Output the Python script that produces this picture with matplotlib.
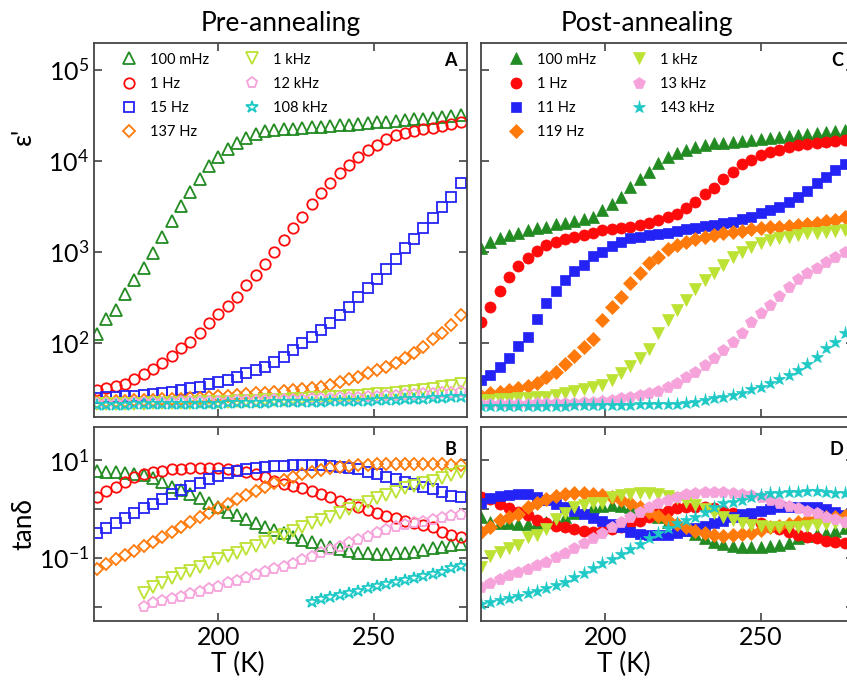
import numpy as np
import matplotlib
matplotlib.use("Agg")
import matplotlib.pyplot as plt

plt.rcParams['font.family'] = ['Lato', 'DejaVu Sans']
plt.rcParams['mathtext.default'] = 'regular'

# temperature sweeps (K)
T_pre = [161, 164, 167, 170, 173, 176, 179, 182, 185, 188, 191, 194, 197, 200,
         203, 206, 209, 212, 215, 218, 221, 224, 227, 230, 233, 236, 239, 242,
         245, 248, 251, 254, 257, 260, 263, 266, 269, 272, 275, 278]
T_post = [160, 163, 166, 169, 172, 175, 178, 181, 184, 187, 190, 193, 196, 199,
          202, 205, 208, 211, 214, 217, 220, 223, 226, 229, 232, 235, 238, 241,
          244, 247, 250, 253, 256, 259, 262, 265, 268, 271, 274, 277, 280]

labels_pre = ['100 mHz', '1 Hz', '15 Hz', '137 Hz', '1 kHz', '12 kHz', '108 kHz']
labels_post = ['100 mHz', '1 Hz', '11 Hz', '119 Hz', '1 kHz', '13 kHz', '143 kHz']
colors = ['#228B22', '#FF0A0A', '#2323F5', '#FF7A0A', '#BCE234', '#F5A3DA', '#1FC9C6']
markers = ['^', 'o', 's', 'D', 'v', 'p', '*']
msizes = [8, 7.5, 7, 6.5, 8, 8, 9]

# ---- panel A : eps' pre-annealing ----
epsA_100mHz = [126, 181, 229, 343, 490, 667, 957, 1440, 2170, 3180, 4560, 6300, 8700, 11100,
               13300, 15500, 17600, 19500, 21000, 21700, 22100, 22500, 22900, 23300, 23700,
               24100, 24500, 24900, 25400, 25900, 26400, 26900, 27400, 27900, 28400, 28900,
               29500, 30100, 31000, 32000]
epsA_1Hz = [30, 31.5, 33.7, 35, 40, 45, 52, 60, 71, 87, 102, 128, 163, 205, 255, 320, 430, 555,
            733, 1000, 1350, 1810, 2430, 3320, 4380, 5730, 7280, 8970, 11100, 13100, 14800,
            17500, 19000, 20000, 21000, 22000, 23000, 24000, 25500, 26500]
epsA_15Hz = [24.5, 25.1, 25.5, 25.9, 26.3, 26.8, 27.3, 28.2, 29.0, 30.2, 31.5, 32.8, 34.9, 36.7,
             38.9, 42.3, 46.1, 50.1, 54.5, 61.8, 70.1, 83.1, 98.5, 116, 138, 166, 201, 249, 316,
             396, 498, 641, 825, 1090, 1390, 1810, 2370, 3130, 4020, 5650]
epsA_137Hz = [22.5, 22.7, 22.9, 23.1, 23.3, 23.5, 23.7, 23.9, 24.1, 24.4, 24.7, 25.0, 25.4, 25.8,
              26.3, 26.8, 27.3, 27.8, 28.4, 29.0, 29.7, 30.4, 31.0, 31.8, 33.0, 34.3, 37.0, 39.6,
              41.7, 46.1, 50.1, 54.5, 59.4, 67.5, 76.6, 90.4, 109, 127, 155, 200]
epsA_1kHz = [21.0, 21.1, 21.2, 21.3, 21.4, 21.5, 21.6, 21.7, 21.8, 21.9, 22.0, 22.1, 22.2, 22.4,
             22.6, 22.8, 23.0, 23.2, 23.4, 23.6, 23.8, 24.0, 24.3, 24.6, 24.9, 25.2, 25.5, 25.9,
             26.3, 26.7, 27.2, 27.7, 28.3, 28.9, 29.6, 30.4, 31.3, 32.3, 33.5, 35.0]
epsA_12kHz = [21.3, 21.4, 21.5, 21.5, 21.6, 21.7, 21.8, 21.9, 22.0, 22.1, 22.2, 22.3, 22.4, 22.5,
              22.6, 22.7, 22.8, 23.0, 23.1, 23.3, 23.4, 23.6, 23.8, 24.0, 24.2, 24.4, 24.6, 24.8,
              25.0, 25.3, 25.6, 25.9, 26.2, 26.5, 26.8, 27.1, 27.5, 27.9, 28.4, 29.0]
epsA_108kHz = [20.8, 20.8, 20.9, 20.9, 21.0, 21.0, 21.1, 21.1, 21.2, 21.2, 21.3, 21.3, 21.4, 21.5,
               21.6, 21.7, 21.8, 21.9, 22.0, 22.1, 22.2, 22.3, 22.4, 22.5, 22.6, 22.7, 22.8, 22.9,
               23.0, 23.2, 23.4, 23.6, 23.8, 24.0, 24.2, 24.4, 24.6, 24.9, 25.2, 25.5]

# ---- panel B : tan delta pre-annealing ----
tanB_100mHz = [6.04, 5.77, 5.77, 5.5, 5.17, 4.93, 4.22, 3.6, 2.84, 2.43, 2.01, 1.64, 1.34, 1.07,
               0.875, 0.748, 0.61, 0.506, 0.419, 0.369, 0.316, 0.269, 0.23, 0.206, 0.182, 0.163,
               0.148, 0.137, 0.127, 0.123, 0.119, 0.119, 0.123, 0.127, 0.131, 0.144, 0.156,
               0.168, 0.182, 0.19]
tanB_1Hz = [1.72, 2.32, 2.84, 3.6, 4.42, 5.09, 5.6, 6.04, 6.43, 6.63, 6.74, 6.96, 6.96, 6.85,
            6.54, 6.24, 5.77, 5.17, 4.42, 3.71, 3.18, 2.94, 2.63, 2.32, 2.01, 1.72, 1.45, 1.26,
            1.11, 0.947, 0.835, 0.725, 0.64, 0.564, 0.506, 0.467, 0.419, 0.341, 0.29, 0.26]
tanB_15Hz = [0.325, 0.399, 0.506, 0.659, 0.81, 1.03, 1.26, 1.59, 2.01, 2.43, 2.94, 3.44, 4.02,
             4.7, 5.33, 5.96, 6.43, 6.96, 7.3, 7.54, 7.66, 7.9, 7.9, 7.9, 7.9, 7.66, 7.3, 6.96,
             6.43, 5.77, 5.09, 4.56, 4.02, 3.6, 3.18, 2.84, 2.51, 2.25, 1.83, 1.75]
tanB_137Hz = [0.0578, 0.0743, 0.0927, 0.1135, 0.139, 0.173, 0.213, 0.269, 0.341, 0.432, 0.546,
              0.67, 0.81, 1.03, 1.26, 1.57, 1.92, 2.32, 2.84, 3.33, 3.89, 4.56, 5.17, 5.77, 6.24,
              6.74, 7.3, 7.54, 7.9, 7.9, 8.15, 8.15, 8.15, 8.15, 8.15, 8.15, 8.15, 8.15, 7.9, 8.0]
tanB_1kHz = [0.0187, 0.0255, 0.0308, 0.0379, 0.0457, 0.0542, 0.0655, 0.0767, 0.0927, 0.108,
             0.127, 0.151, 0.173, 0.213, 0.249, 0.292, 0.357, 0.432, 0.506, 0.592, 0.692, 0.835,
             0.98, 1.14, 1.4, 1.64, 1.92, 2.25, 2.63, 2.94, 3.33, 3.77, 4.22, 4.93, 5.6]
tanB_12kHz = [0.0099, 0.0116, 0.013, 0.0143, 0.0159, 0.0181, 0.0201, 0.0225, 0.0255, 0.0299,
              0.0339, 0.039, 0.0443, 0.0501, 0.0578, 0.0655, 0.0743, 0.0897, 0.102, 0.123, 0.144,
              0.168, 0.197, 0.23, 0.269, 0.316, 0.369, 0.432, 0.47, 0.51, 0.55, 0.6, 0.65, 0.7,
              0.75]
tanB_108kHz = [0.0126, 0.0141, 0.0155, 0.0172, 0.0192, 0.0211, 0.0236, 0.0264, 0.029, 0.0318,
               0.0349, 0.0384, 0.0422, 0.0464, 0.0518, 0.0605, 0.0676]

# ---- panel C : eps' post-annealing ----
epsC_100mHz = [1090, 1290, 1400, 1530, 1620, 1730, 1810, 1880, 2000, 2050, 2170, 2270, 2390,
               2870, 3310, 4020, 5170, 6250, 7570, 9360, 10900, 12000, 13100, 14000, 14900,
               15500, 15800, 16200, 16600, 17000, 17400, 17800, 18200, 18600, 19000, 19500,
               20000, 20500, 21000, 21500, 22000]
epsC_1Hz = [170, 249, 373, 523, 697, 846, 1025, 1190, 1290, 1390, 1460, 1530, 1620, 1730, 1760,
            1840, 1880, 1970, 2080, 2230, 2390, 2600, 3000, 3540, 4300, 4980, 6250, 7520, 9200,
            10200, 11600, 12300, 13100, 14000, 14900, 15300, 15800, 16200, 16600, 16900, 17200]
epsC_11Hz = [38.9, 44.2, 54.5, 67.5, 92, 116, 181, 271, 373, 489, 614, 714, 897, 1000, 1160,
             1290, 1400, 1460, 1530, 1570, 1620, 1700, 1760, 1840, 1920, 1970, 2080, 2140, 2270,
             2430, 2640, 2870, 3130, 3540, 3960, 4680, 5730, 6670, 7910, 9200, 10500]
epsC_119Hz = [25.9, 27.8, 29, 30.2, 31.5, 33.4, 35.8, 41.7, 48, 58.3, 71.4, 90.4, 109, 177, 249,
              320, 450, 579, 746, 881, 1060, 1190, 1290, 1370, 1460, 1530, 1590, 1660, 1700,
              1760, 1810, 1850, 1880, 1920, 1970, 2010, 2080, 2170, 2230, 2390, 2500]
epsC_1kHz = [23.4, 23.4, 23.9, 23.9, 24.5, 24.5, 25.1, 25.5, 26.6, 27.8, 29.7, 30.8, 32.4, 34.3,
             38.9, 46.1, 55.5, 67.5, 84.6, 129, 177, 228, 294, 386, 489, 588, 714, 881, 1000,
             1135, 1235, 1345, 1425, 1460, 1530, 1590, 1620, 1660, 1700, 1730, 1760]
epsC_13kHz = [21.0, 21.1, 21.2, 21.3, 21.4, 21.5, 21.6, 21.7, 21.8, 21.9, 22.0, 22.2, 22.5, 22.9,
              23.4, 24.5, 25.5, 26.6, 28.2, 29.7, 32.8, 36.3, 41.7, 48, 56.9, 67.5, 83.2, 103,
              127, 170, 210, 259, 326, 412, 498, 579, 658, 776, 881, 1000, 1080]
epsC_143kHz = [20.0, 20.0, 20.1, 20.1, 20.2, 20.2, 20.3, 20.3, 20.4, 20.4, 20.5, 20.5, 20.6,
               20.6, 20.7, 20.8, 20.9, 21.0, 21.1, 21.2, 21.3, 21.4, 21.6, 22.5, 23.4, 24.5,
               25.5, 26.6, 28.2, 30.8, 33.0, 35.8, 39.6, 44.2, 50.1, 58.3, 70.1, 86.7, 103, 127,
               140]

# ---- panel D : tan delta post-annealing ----
tanD_100mHz = [0.691, 0.546, 0.506, 0.506, 0.49, 0.49, 0.506, 0.546, 0.592, 0.691, 0.81, 0.918,
               1.07, 1.14, 1.2, 1.14, 1.07, 0.947, 0.81, 0.67, 0.546, 0.446, 0.369, 0.306, 0.249,
               0.213, 0.191, 0.173, 0.168, 0.163, 0.163, 0.173, 0.182, 0.203, 0.249, 0.278,
               0.306, 0.325, 0.357, 0.399, 0.43]
tanD_1Hz = [1.72, 1.57, 1.26, 1.03, 0.875, 0.748, 0.592, 0.506, 0.446, 0.419, 0.381, 0.357,
            0.341, 0.357, 0.381, 0.419, 0.49, 0.573, 0.67, 0.81, 0.918, 1.03, 1.07, 1.07, 1.07,
            1.03, 0.918, 0.81, 0.691, 0.61, 0.506, 0.432, 0.381, 0.341, 0.292, 0.269, 0.249,
            0.223, 0.213, 0.203, 0.2]
tanD_11Hz = [1.3, 1.64, 1.83, 1.92, 2.01, 2.01, 1.72, 1.52, 1.26, 1.07, 0.918, 0.785, 0.64,
             0.573, 0.49, 0.419, 0.341, 0.306, 0.292, 0.292, 0.292, 0.316, 0.357, 0.399, 0.446,
             0.506, 0.573, 0.67, 0.785, 0.835, 0.918, 0.98, 1.07, 1.11, 1.11, 1.11, 1.07, 0.98,
             0.875, 0.748, 0.7]
tanD_119Hz = [0.341, 0.432, 0.592, 0.691, 0.785, 1.07, 1.3, 1.57, 1.83, 2.01, 2.08, 2.08, 2.01,
              1.92, 1.72, 1.52, 1.3, 1.07, 0.875, 0.714, 0.592, 0.49, 0.419, 0.357, 0.316, 0.292,
              0.278, 0.292, 0.306, 0.325, 0.369, 0.419, 0.446, 0.49, 0.546, 0.592, 0.64, 0.67,
              0.691, 0.714, 0.73]
tanD_1kHz = [0.0655, 0.108, 0.133, 0.16, 0.182, 0.261, 0.292, 0.381, 0.61, 0.835, 1.11, 1.2,
             1.3, 1.34, 1.72, 1.92, 2.01, 2.08, 2.08, 2.01, 1.83, 1.64, 1.4, 1.2, 0.98, 0.81,
             0.67, 0.592, 0.522, 0.467, 0.446, 0.419, 0.419, 0.419, 0.432, 0.446, 0.467, 0.49,
             0.506, 0.522, 0.53]
tanD_13kHz = [0.0255, 0.0299, 0.036, 0.0443, 0.0518, 0.0578, 0.071, 0.083, 0.105, 0.127, 0.156,
              0.197, 0.249, 0.316, 0.419, 0.546, 0.691, 0.875, 1.07, 1.3, 1.52, 1.77, 2.01, 2.14,
              2.25, 2.25, 2.25, 2.14, 2.01, 1.92, 1.72, 1.52, 1.3, 1.14, 1.03, 0.918, 0.81,
              0.691, 0.61, 0.546, 0.5]
tanD_143kHz = [0.0113, 0.0126, 0.0136, 0.0148, 0.0164, 0.0187, 0.0211, 0.0236, 0.0276, 0.0323,
               0.0397, 0.0493, 0.0605, 0.0767, 0.0927, 0.119, 0.148, 0.191, 0.249, 0.316, 0.399,
               0.506, 0.592, 0.691, 0.875, 1.07, 1.3, 1.4, 1.52, 1.72, 1.92, 2.08, 2.14, 2.25,
               2.25, 2.35, 2.35, 2.25, 2.14, 2.08, 2.0]

T_B_late = T_pre[5:]     # 1 kHz and 12 kHz start at 176 K
T_B_high = T_pre[23:]    # 108 kHz starts at 230 K

series_A = [epsA_100mHz, epsA_1Hz, epsA_15Hz, epsA_137Hz, epsA_1kHz, epsA_12kHz, epsA_108kHz]
series_B = [(T_pre, tanB_100mHz), (T_pre, tanB_1Hz), (T_pre, tanB_15Hz), (T_pre, tanB_137Hz),
            (T_B_late, tanB_1kHz), (T_B_late, tanB_12kHz), (T_B_high, tanB_108kHz)]
series_C = [epsC_100mHz, epsC_1Hz, epsC_11Hz, epsC_119Hz, epsC_1kHz, epsC_13kHz, epsC_143kHz]
series_D = [tanD_100mHz, tanD_1Hz, tanD_11Hz, tanD_119Hz, tanD_1kHz, tanD_13kHz, tanD_143kHz]

fig = plt.figure(figsize=(8.47, 6.8), dpi=100)
W, H = 847.0, 680.0
axA = fig.add_axes([94 / W, 1 - 417 / H, 373 / W, 374 / H])
axB = fig.add_axes([94 / W, 1 - 621 / H, 373 / W, 194 / H])
axC = fig.add_axes([481 / W, 1 - 417 / H, 373 / W, 374 / H])
axD = fig.add_axes([481 / W, 1 - 621 / H, 373 / W, 194 / H])

for i in range(7):
    axA.plot(T_pre, series_A[i], ls='none', marker=markers[i], ms=msizes[i],
             mfc='none', mec=colors[i], mew=1.3, label=labels_pre[i])
    tb, vb = series_B[i]
    axB.plot(tb, vb, ls='none', marker=markers[i], ms=msizes[i],
             mfc='none', mec=colors[i], mew=1.3)
    axC.plot(T_post, series_C[i], ls='none', marker=markers[i], ms=msizes[i] + 0.5,
             mfc=colors[i], mec=colors[i], mew=0.5, label=labels_post[i])
    axD.plot(T_post, series_D[i], ls='none', marker=markers[i], ms=msizes[i] + 0.5,
             mfc=colors[i], mec=colors[i], mew=0.5)

for ax in (axA, axB, axC, axD):
    ax.set_yscale('log')
    ax.set_xlim(160, 280)
    ax.set_xticks([200, 250])
    ax.minorticks_off()
    ax.tick_params(direction='in', length=6, width=1.1, top=True, right=True,
                   labelsize=18, colors='#333333', labelcolor='black')
    for s in ax.spines.values():
        s.set_color('#444444')
        s.set_linewidth(1.3)

for ax in (axA, axC):
    ax.set_ylim(15.3, 1.96e5)
    ax.set_yticks([1e2, 1e3, 1e4, 1e5])
    ax.set_yticklabels(['$10^{2}$', '$10^{3}$', '$10^{4}$', '$10^{5}$'])
    ax.tick_params(labelbottom=False)
    ax.minorticks_off()
for ax in (axB, axD):
    ax.set_ylim(0.00506, 47.4)
    ax.set_yticks([1e-2, 1e-1, 1, 10])
    ax.set_yticklabels(['', '$10^{-1}$', '', '$10^{1}$'])
    ax.minorticks_off()
for ax in (axC, axD):
    ax.tick_params(labelleft=False)

axA.set_ylabel("ε'", fontsize=19)
axB.set_ylabel("tanδ", fontsize=19)
axA.yaxis.set_label_coords(-0.155, 0.75)
axB.yaxis.set_label_coords(-0.155, 0.5)
axB.set_xlabel('T (K)', fontsize=19)
axD.set_xlabel('T (K)', fontsize=19)
axB.xaxis.set_label_coords(0.386, -0.16)
axD.xaxis.set_label_coords(0.383, -0.16)

axA.set_title('Pre-annealing', fontsize=19, pad=9)
axC.set_title('Post-annealing', fontsize=19, pad=9, x=0.445)

for ax, letter, ypos in ((axA, 'A', 0.975), (axB, 'B', 0.93), (axC, 'C', 0.975), (axD, 'D', 0.93)):
    ax.text(0.972, ypos, letter, transform=ax.transAxes, ha='right', va='top',
            fontsize=13, fontweight='bold')

for ax in (axA, axC):
    ax.legend(loc='upper left', bbox_to_anchor=(0.055, 0.99), ncol=2, frameon=False,
              fontsize=10.5, handlelength=1.2, handletextpad=0.8, columnspacing=2.4,
              labelspacing=0.7, borderaxespad=0)

fig.savefig('out.png', dpi=100)
